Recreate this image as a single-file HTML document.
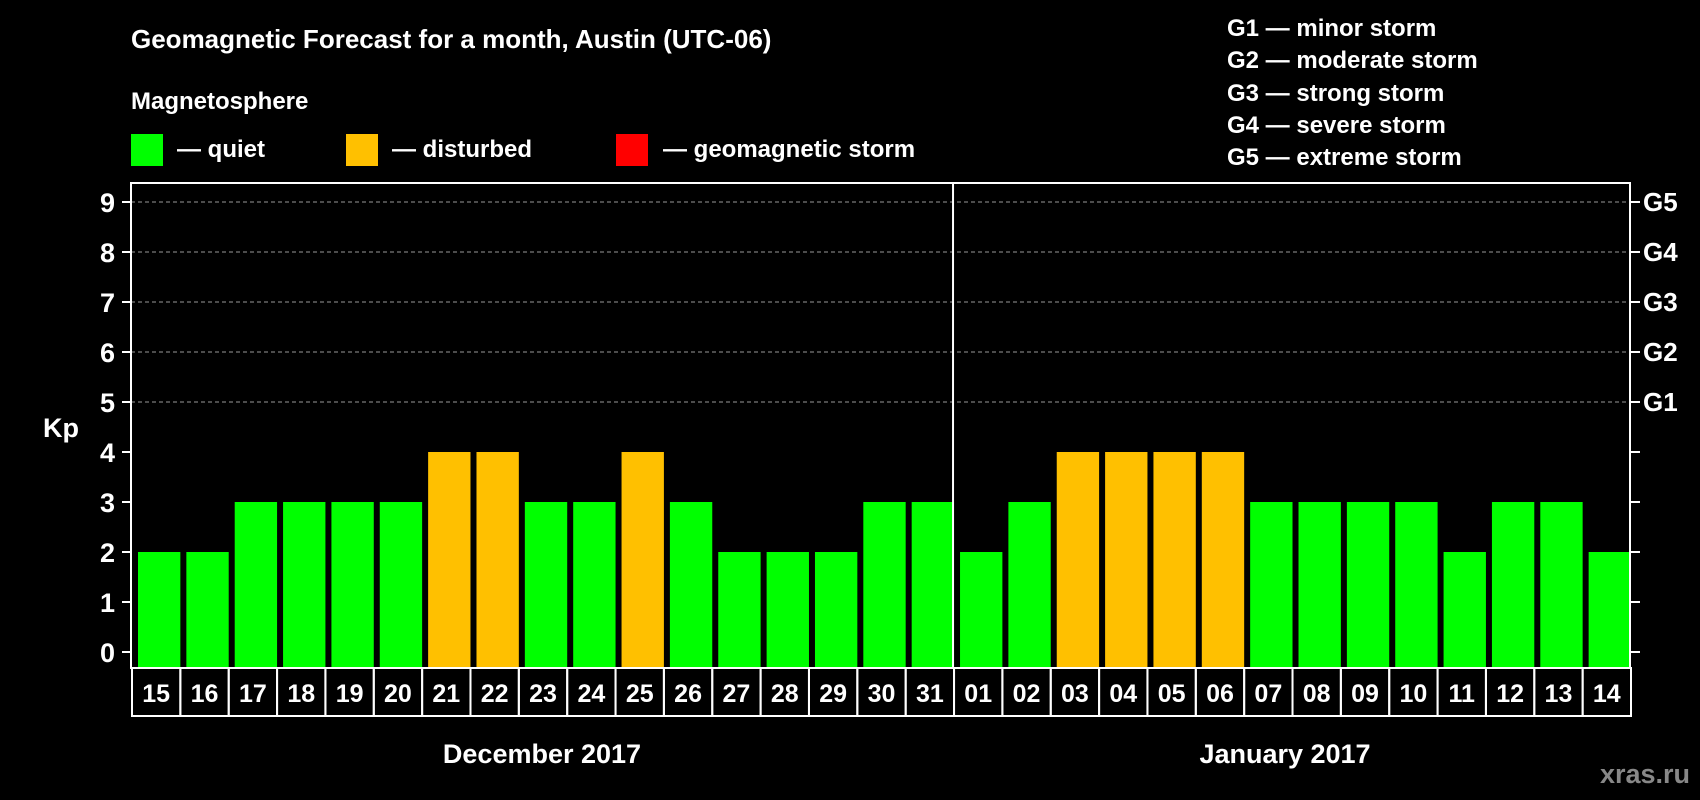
<!DOCTYPE html>
<html><head><meta charset="utf-8"><style>
html,body{margin:0;padding:0;background:#000;}
svg{display:block;font-family:"Liberation Sans",Arial,sans-serif;font-weight:bold;}
</style></head><body>
<svg id="chart" width="1700" height="800" viewBox="0 0 1700 800" xmlns="http://www.w3.org/2000/svg">
<rect width="1700" height="800" fill="#000"/>
<text x="131" y="48" fill="#fff" font-size="26">Geomagnetic Forecast for a month, Austin (UTC-06)</text>
<text x="131" y="109" fill="#fff" font-size="24">Magnetosphere</text>
<g><rect x="131" y="134" width="32" height="32" fill="#00ff00"/><text x="177" y="157" fill="#fff" font-size="24">— quiet</text></g>
<g><rect x="346" y="134" width="32" height="32" fill="#ffc000"/><text x="392" y="157" fill="#fff" font-size="24">— disturbed</text></g>
<g><rect x="616" y="134" width="32" height="32" fill="#ff0000"/><text x="663" y="157" fill="#fff" font-size="24">— geomagnetic storm</text></g>
<g fill="#fff" font-size="24">
<text x="1227" y="36">G1 — minor storm</text>
<text x="1227" y="68">G2 — moderate storm</text>
<text x="1227" y="101">G3 — strong storm</text>
<text x="1227" y="133">G4 — severe storm</text>
<text x="1227" y="165">G5 — extreme storm</text>
</g>
<text x="43" y="437" fill="#fff" font-size="27">Kp</text>
<g id="grid"></g>
<g id="bars"></g>
<g id="axes"></g>
<text x="542" y="763" fill="#fff" font-size="27" text-anchor="middle">December 2017</text>
<text x="1285" y="763" fill="#fff" font-size="27" text-anchor="middle">January 2017</text>
<text x="1690" y="783" fill="#888" font-size="27" text-anchor="end">xras.ru</text>
</svg>
<script>
const days = ["15","16","17","18","19","20","21","22","23","24","25","26","27","28","29","30","31","01","02","03","04","05","06","07","08","09","10","11","12","13","14"];
const kpValues = [2,2,3,3,3,3,4,4,3,3,4,3,2,2,2,3,3,2,3,4,4,4,4,3,3,3,3,2,3,3,2];
const yTicks = [0,1,2,3,4,5,6,7,8,9];
const gLabels = ["G1","G2","G3","G4","G5"];
const gLevels = [5,6,7,8,9];
const monthSplitIndex = 17;

const NS = "http://www.w3.org/2000/svg";
const L = 131, R = 1630, T = 183, B = 668;
const Y0 = 652, unit = 50;
const bw = (R - L) / days.length;
const yS = v => Y0 - v * unit;
const xS = i => L + i * bw;
function mk(tag, attrs, parent) {
  const e = document.createElementNS(NS, tag);
  for (const k in attrs) e.setAttribute(k, attrs[k]);
  parent.appendChild(e);
  return e;
}
const grid = document.getElementById('grid');
const bars = document.getElementById('bars');
const axes = document.getElementById('axes');
function color(v) { return v >= 5 ? "#ff0000" : (v >= 4 ? "#ffc000" : "#00ff00"); }

gLevels.forEach((lv, i) => {
  const ln = mk('line', {x1: L, x2: R, y1: yS(lv), y2: yS(lv), stroke: "#999", "stroke-width": 1, "stroke-dasharray": "4,3"}, grid);
  
  
  const t = mk('text', {x: 1643, y: yS(lv) + 9, fill: "#fff", "font-size": 26}, axes);
  t.textContent = gLabels[i];
  
  
});

kpValues.forEach((v, i) => {
  const r = mk('rect', {x: xS(i) + 7, y: yS(v), width: bw - 6, height: B - yS(v), fill: color(v)}, bars);
  
  
  const c = mk('rect', {x: xS(i) + 1, y: B, width: bw, height: 48, fill: "none", stroke: "#fff", "stroke-width": 2}, axes);
  
  
  const t = mk('text', {x: xS(i) + 1 + bw / 2, y: B + 34, fill: "#fff", "font-size": 25, "text-anchor": "middle"}, axes);
  t.textContent = days[i];
  
  
});

yTicks.forEach(v => {
  const tk = mk('line', {x1: L - 9, x2: L, y1: yS(v), y2: yS(v), stroke: "#fff", "stroke-width": 2}, axes);
  
  
  const tk2 = mk('line', {x1: R, x2: R + 10, y1: yS(v), y2: yS(v), stroke: "#fff", "stroke-width": 2}, axes);
  
  
  const t = mk('text', {x: 115, y: yS(v) + 10, fill: "#fff", "font-size": 27, "text-anchor": "end"}, axes);
  t.textContent = v;
  
  
});

const frame = mk('rect', {x: L, y: T, width: R - L, height: B - T, fill: "none", stroke: "#fff", "stroke-width": 2}, axes);


const div = mk('line', {x1: xS(monthSplitIndex), x2: xS(monthSplitIndex), y1: T, y2: B, stroke: "#fff", "stroke-width": 2}, axes);


</script>
</body></html>
